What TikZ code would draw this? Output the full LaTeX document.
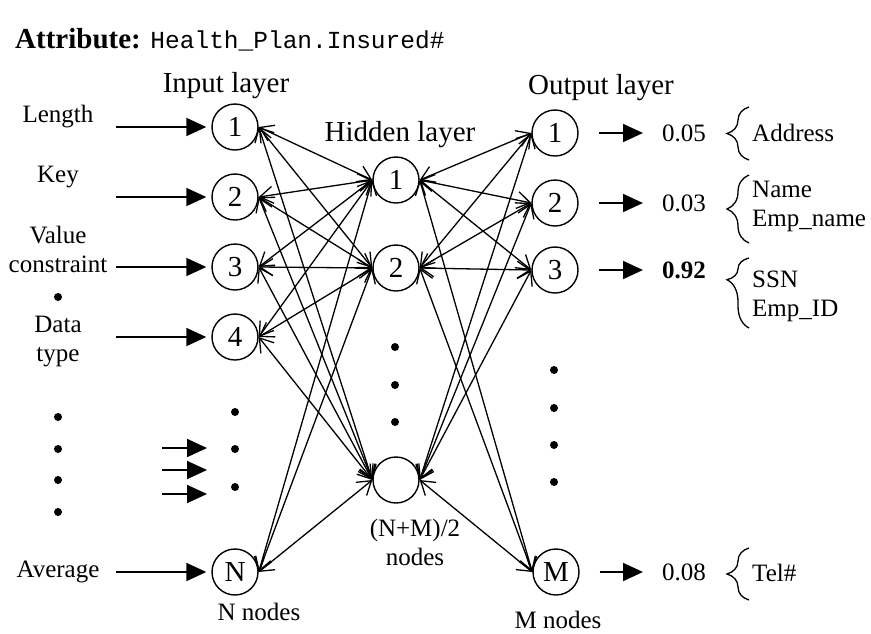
\documentclass[tikz,border=0pt]{standalone}
\usepackage{fontspec}
\setmainfont{Liberation Serif}
\setmonofont{Liberation Mono}
\usetikzlibrary{arrows.meta,positioning,decorations.pathreplacing}

\begin{document}
\begin{tikzpicture}[x=1pt, y=-1pt, node distance=70pt,
    neuron/.style={circle, draw, line width=1.4pt, minimum size=46pt, inner sep=0pt,
      font=\fontsize{29}{29}\selectfont},
    link/.style={line width=1.3pt,
      {Straight Barb[length=13pt,width=17pt]}-{Straight Barb[length=13pt,width=17pt]}},
    feed/.style={line width=1.8pt, -{Triangle[length=20pt,width=18pt]}},
    lbl/.style={font=\fontsize{25}{29}\selectfont, align=center},
    head/.style={font=\fontsize{29}{32}\selectfont},
    val/.style={font=\fontsize{25}{29}\selectfont, anchor=west, inner sep=0pt},
    dot/.style={circle, fill, minimum size=8pt, inner sep=0pt},
    brc/.style={decorate, decoration={brace, amplitude=22pt}, line width=1.3pt}]
  \useasboundingbox (0,0) rectangle (871,633);

  % title
  \node[anchor=west, inner sep=0pt] (title) at (15,40)
    {\fontsize{29}{30}\selectfont\textbf{Attribute:} \fontsize{24.5}{30}\selectfont\texttt{Health\_Plan.Insured\#}};

  % input layer
  \node[head] (inp) at (226,86) {Input layer};
  \node[neuron] (i1) at (235,127) {1};
  \node[neuron] (i2) [below of = i1] {2};
  \node[neuron] (i3) [below of = i2] {3};
  \node[neuron] (i4) [below of = i3] {4};
  \node[neuron] (iN) at (235,572) {N};
  \node[lbl] (nn) at (259,612) {N nodes};

  % hidden layer
  \node[head] (hid) at (400,135) {Hidden layer};
  \node[neuron] (h1) at (396,180) {1};
  \node[neuron] (h2) at (396,268) {2};
  \node[neuron] (hH) at (396,480) {};
  \node[lbl] (hn) at (415,542) {(N+M)/2\\nodes};

  % output layer
  \node[head] (out) at (601,88) {Output layer};
  \node[neuron] (o1) at (555,133) {1};
  \node[neuron] (o2) [below of = o1] {2};
  \node[neuron] (o3) at (555,270) {3};
  \node[neuron] (oM) at (556,572) {M};
  \node[lbl] (mn) at (558,620) {M nodes};

  % input features
  \node[lbl] (len) at (58,117) {Length};
  \node[lbl] (key) at (58,177) {Key};
  \node[lbl] (vc)  at (58,249) {Value\\constraint};
  \node[lbl] (dt)  at (58,342) {Data\\type};
  \node[lbl] (avg) at (58,572) {Average};

  \foreach \n in {1,2,3,4,N}
    \draw[feed, shorten >=5pt] ([xshift=-95pt]i\n.west) -- (i\n.west);
  \foreach \y in {448,470,494}
    \draw[feed] (162,\y) -- (207,\y);

  % dots
  \foreach \y in {297,417,449,480,512} \node[dot] at (58,\y) {};
  \foreach \y in {412,449,487} \node[dot] at (235,\y) {};
  \foreach \y in {347,385,422} \node[dot] at (395,\y) {};
  \foreach \y in {370,408,445,482} \node[dot] at (554,\y) {};

  % connections
  \foreach \i in {i1,i2,i3,i4,iN}
    \foreach \h in {h1,h2,hH}
      \draw[link] (\i.east) -- (\h.west);
  \foreach \h in {h1,h2,hH}
    \foreach \o in {o1,o2,o3,oM}
      \draw[link] (\h.east) -- (\o.west);

  % outputs
  \node[val] (v1) at (662,133) {0.05};
  \node[val] (v2) at (662,203) {0.03};
  \node[val] (v3) at (662,270) {\textbf{0.92}};
  \node[val] (vM) at (662,572) {0.08};
  \foreach \n in {1,2,3,M}
    \draw[feed, shorten <=20pt, shorten >=19pt] (o\n.east) -- (v\n.west);

  \node[val] (a1) at (752,133) {Address};
  \node[val, align=left] (a2) at (752,206) {Name\\Emp\_name};
  \node[val, align=left] (a3) at (752,296) {SSN\\Emp\_ID};
  \node[val] (aM) at (752,573) {Tel\#};
  \draw[brc] (749,160) -- (749,107);
  \draw[brc] (749,243) -- (749,175);
  \draw[brc, decoration={aspect=0.69}] (749,328) -- (749,258);
  \draw[brc] (749,600) -- (749,548);
\end{tikzpicture}
\end{document}
